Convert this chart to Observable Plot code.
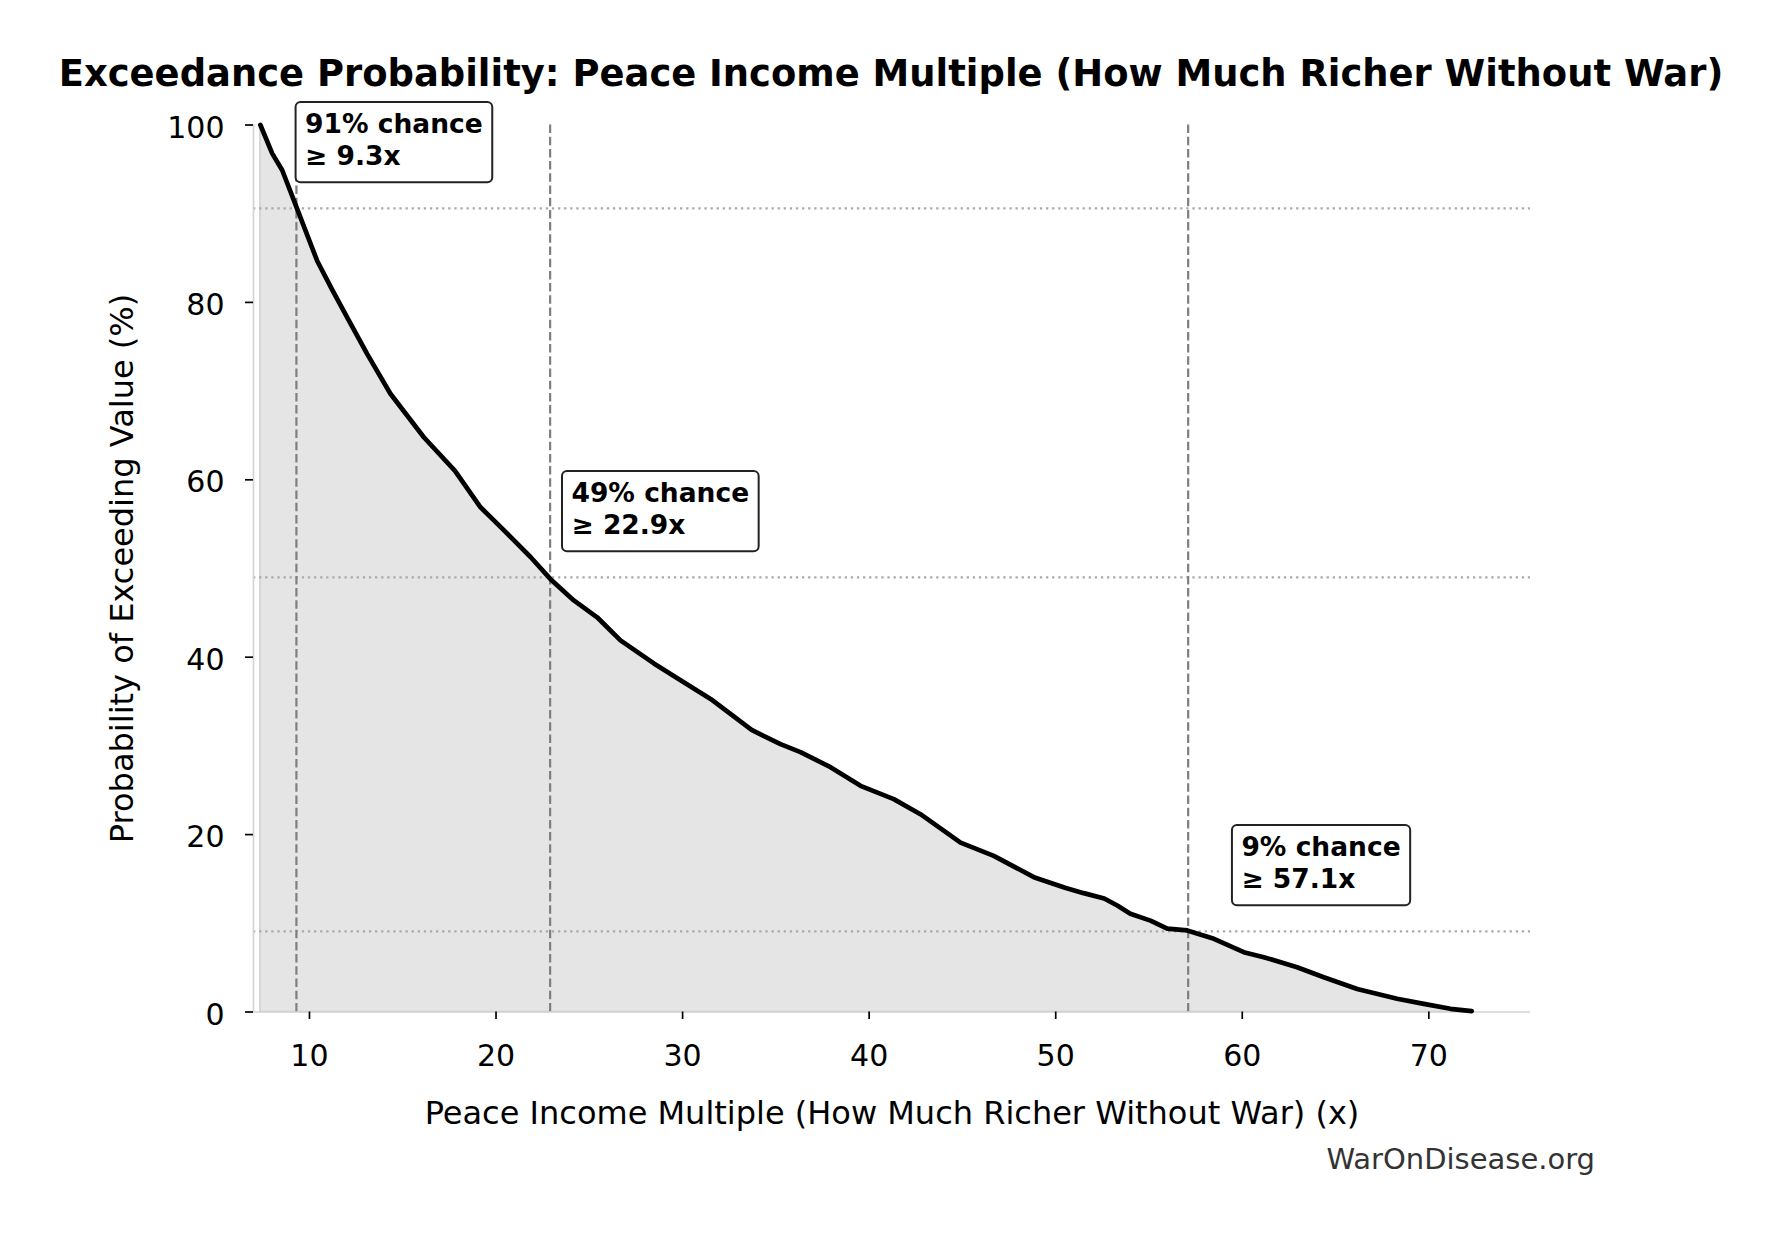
<!DOCTYPE html>
<html><head><meta charset="utf-8">
<script src="https://cdn.jsdelivr.net/npm/d3@7"></script>
<script src="https://cdn.jsdelivr.net/npm/@observablehq/plot@0.6"></script>
<style>
html,body{margin:0;padding:0;background:#fff;}
#wrap{width:1782px;height:1233px;position:relative;overflow:hidden;font-family:"DejaVu Sans",sans-serif;}
#title{height:100px;box-sizing:border-box;padding-top:56px;text-align:center;font-weight:bold;font-size:36.9px;line-height:1;color:#000;white-space:nowrap;}
#chart{height:1035px;}
#chart svg{display:block;}
#footer{height:98px;box-sizing:border-box;padding-top:10px;padding-right:187px;text-align:right;font-size:29px;line-height:1;color:#333;}
</style></head><body>
<div id="wrap">
<div id="title">Exceedance Probability: Peace Income Multiple (How Much Richer Without War)</div>
<div id="chart"></div>
<div id="footer">WarOnDisease.org</div>
</div>
<script>
// Exceedance curve
const xVals = [7.37, 8.0, 8.54, 9.34, 10.41, 11.2, 12.02, 13.09, 14.34, 15.4, 16.13, 17.8, 19.17, 20.24, 20.95, 21.85, 22.92, 24.17, 25.42, 26.67, 28.46, 29.89, 31.5, 33.7, 35.25, 36.32, 37.93, 39.54, 41.32, 42.75, 44.9, 46.68, 48.83, 50.5, 51.5, 52.6, 53.3, 54.0, 55.08, 55.98, 57.05, 58.48, 60.08, 61.15, 62.94, 64.37, 66.16, 68.3, 69.73, 71.16, 72.3];
const pVals = [100, 96.8, 94.9, 90.55, 84.7, 81.5, 78.3, 74.2, 69.7, 66.8, 64.8, 61.0, 56.9, 54.7, 53.2, 51.3, 48.8, 46.4, 44.5, 41.9, 39.3, 37.4, 35.3, 31.8, 30.2, 29.3, 27.6, 25.5, 24.0, 22.3, 19.1, 17.6, 15.2, 14.0, 13.4, 12.8, 12.0, 11.07, 10.3, 9.4, 9.2, 8.25, 6.74, 6.18, 5.05, 3.92, 2.6, 1.49, 0.92, 0.36, 0.1];

// Annotated percentiles
const markX = [9.3, 22.9, 57.1];
const markP = [90.6, 49.0, 9.1];
const markLabel = ["91% chance\n≥ 9.3x", "49% chance\n≥ 22.9x", "9% chance\n≥ 57.1x"];

// Axes
const xTicks = [10, 20, 30, 40, 50, 60, 70];
const yTicks = [0, 20, 40, 60, 80, 100];
const xDomain = [7.0, 75.45];
const yDomain = [0, 100];
const xLabel = "Peace Income Multiple (How Much Richer Without War) (x)";
const yLabel = "Probability of Exceeding Value (%)";

const curve = xVals.map((x, i) => ({x, p: pVals[i]}));
const annos = markX.map((x, i) => ({x, p: markP[i], label: markLabel[i]}));

const chart = Plot.plot({
  width: 1782, height: 1035,
  marginTop: 24.5, marginLeft: 253, marginRight: 252, marginBottom: 123.5,
  style: {fontFamily: "DejaVu Sans", fontSize: "30px", color: "#000", background: "transparent", overflow: "visible"},
  x: {domain: xDomain},
  y: {domain: yDomain},
  marks: [
    Plot.areaY(curve, {x: "x", y: "p", fill: "#e5e5e5", stroke: "#cfcfcf", strokeWidth: 1.5}),
    Plot.ruleY(annos, {y: "p", stroke: "#aaaaaa", strokeWidth: 2.2, strokeDasharray: "2.3,3.8"}),
    Plot.ruleX(annos, {x: "x", stroke: "#7f7f7f", strokeWidth: 2.2, strokeDasharray: "8.5,3.7"}),
    Plot.ruleX([xDomain[0]], {stroke: "#d3d3d3", strokeWidth: 1.7}),
    Plot.ruleY([yDomain[0]], {stroke: "#d3d3d3", strokeWidth: 1.7}),
    Plot.line(curve, {x: "x", y: "p", stroke: "#000", strokeWidth: 4.7, strokeLinejoin: "round", strokeLinecap: "round"}),
    Plot.axisX({ticks: xTicks, tickSize: 7.5, tickPadding: 24.7, tickFormat: d => String(d), fontSize: 30, label: null, strokeWidth: 1.7}),
    Plot.axisY({ticks: yTicks, tickSize: 8, text: null, label: null, strokeWidth: 1.7}),
    Plot.axisY({ticks: yTicks, tickSize: 0, tickPadding: 29, tickFormat: d => String(d), fontSize: 30, label: null, dy: 3}),
    Plot.text([xLabel], {frameAnchor: "bottom", dy: 101.3, textAnchor: "middle", lineAnchor: "middle", fontSize: 32}),
    Plot.text([yLabel], {frameAnchor: "left", rotate: -90, dx: -131, textAnchor: "middle", lineAnchor: "middle", fontSize: 32}),
    Plot.text(annos, {x: d => d.x * 1.05, y: d => d.p + 7.8, text: "label", textAnchor: "start", lineAnchor: "middle", lineHeight: 1.2, fontSize: 26.5, fontWeight: "bold", fill: "#000"})
  ]
});
document.getElementById("chart").appendChild(chart);

// Rounded white boxes behind annotation labels
const svgns = "http://www.w3.org/2000/svg";
chart.querySelectorAll("text").forEach(t => {
  if (!t.textContent.includes("chance")) return;
  const b = t.getBBox();
  const r = document.createElementNS(svgns, "rect");
  r.setAttribute("x", b.x - 9.5);
  r.setAttribute("y", b.y - 6.4);
  r.setAttribute("width", b.width + 19);
  r.setAttribute("height", b.height + 17.4);
  r.setAttribute("rx", 5);
  r.setAttribute("fill", "#fff");
  r.setAttribute("stroke", "#222");
  r.setAttribute("stroke-width", 2);
  const tr = t.getAttribute("transform");
  if (tr) r.setAttribute("transform", tr);
  t.parentNode.insertBefore(r, t);
});
</script>
</body></html>
